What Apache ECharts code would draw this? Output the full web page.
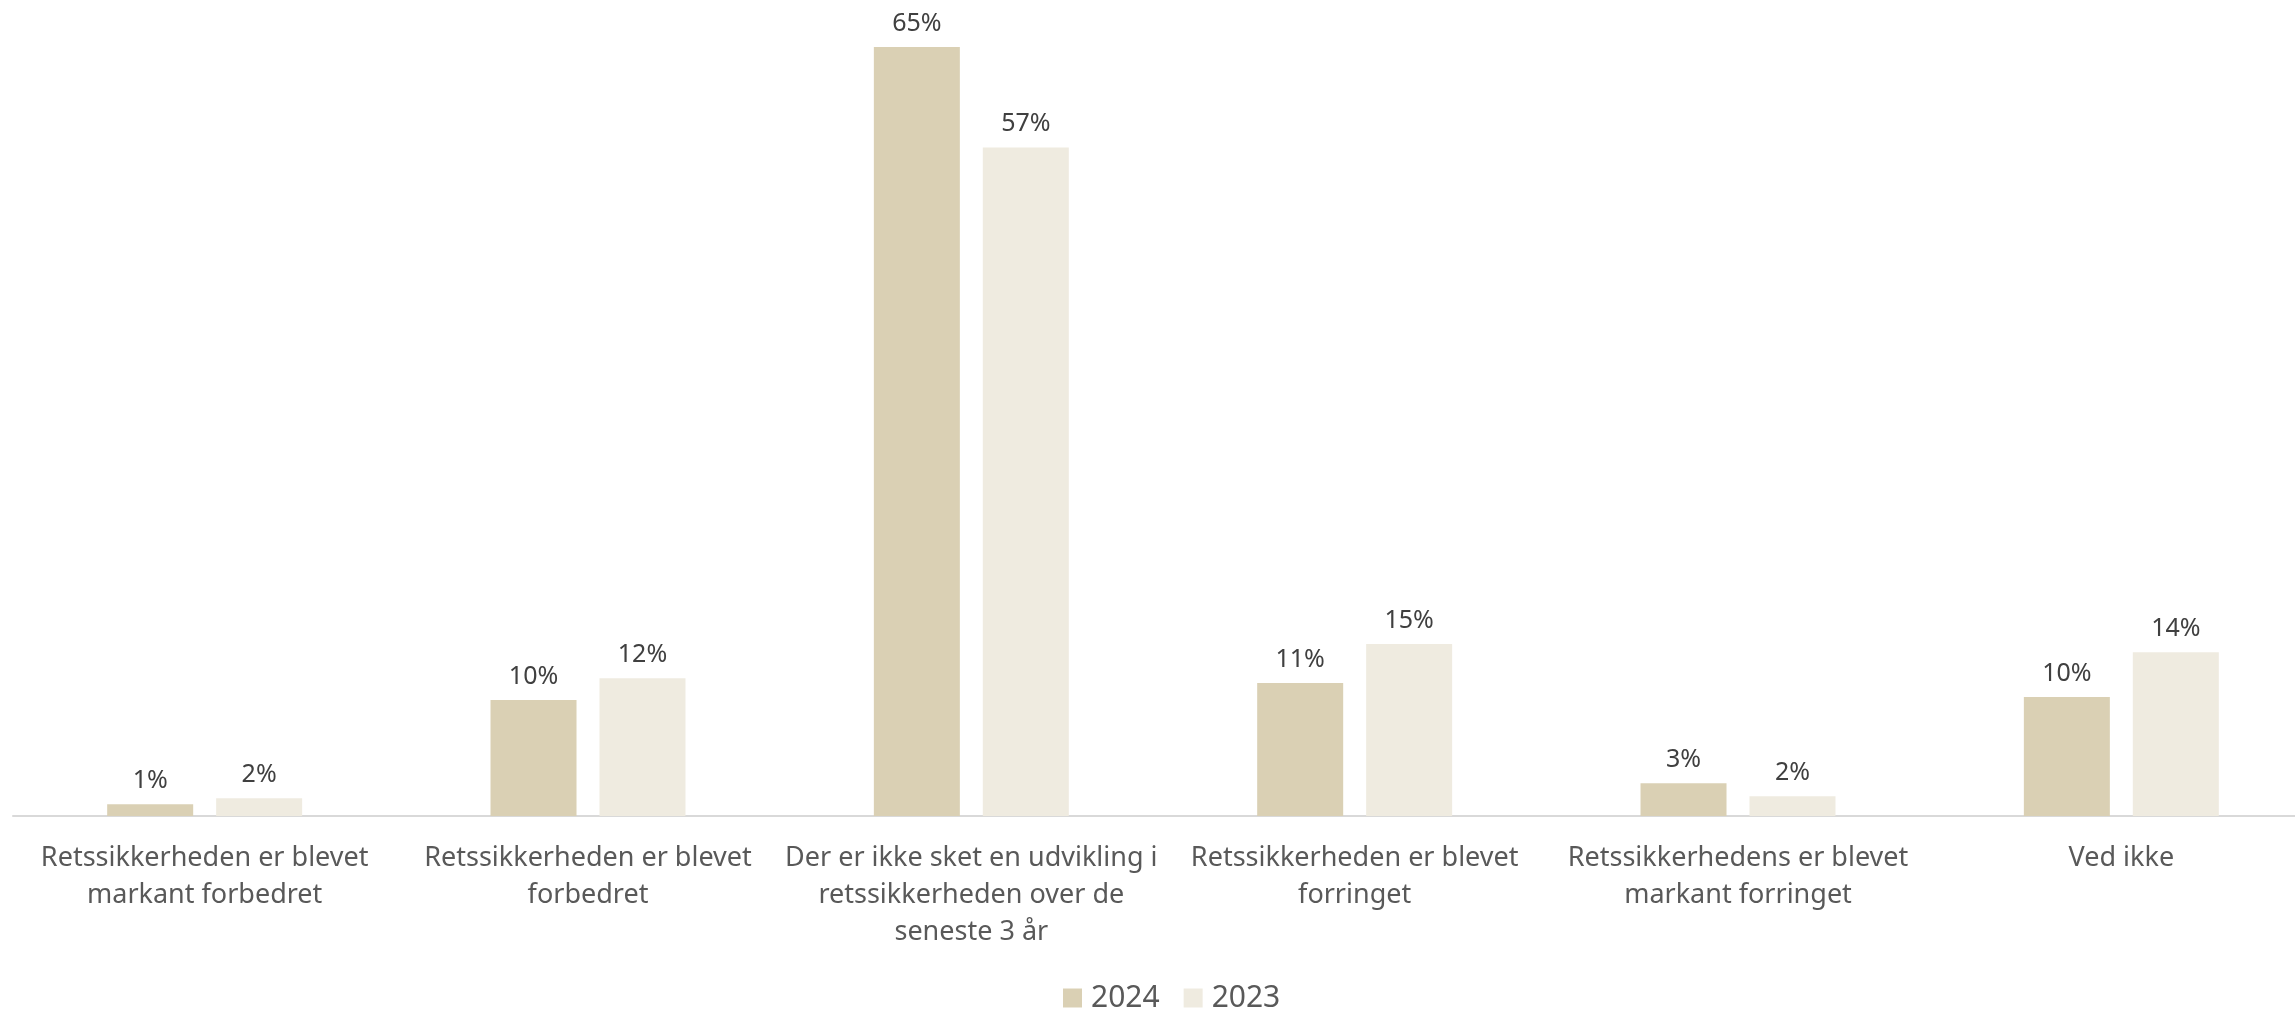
<!DOCTYPE html>
<html>
<head>
<meta charset="utf-8">
<script src="https://cdn.jsdelivr.net/npm/echarts@6/dist/echarts.min.js"></script>
<style>
html,body{margin:0;padding:0;background:#fff;}
#chart{width:2295px;height:1009px;}
</style>
</head>
<body>
<div id="chart"></div>
<script>
const categories = [
  "Retssikkerheden er blevet\nmarkant forbedret",
  "Retssikkerheden er blevet\nforbedret",
  "Der er ikke sket en udvikling i\nretssikkerheden over de\nseneste 3 år",
  "Retssikkerheden er blevet\nforringet",
  "Retssikkerhedens er blevet\nmarkant forringet",
  "Ved ikke"
];
const seriesNames = ["2024", "2023"];
const values2024 = [1.0, 9.8, 65, 11.25, 2.76, 10.06];
const values2023 = [1.5, 11.64, 56.5, 14.54, 1.67, 13.84];
const colors = ["#DAD0B4", "#EFEBE0"];

const chart = echarts.init(document.getElementById('chart'), null, {renderer: 'canvas'});
const labelStyle = {
  show: true,
  position: 'top',
  distance: 11,
  fontFamily: 'Noto Sans',
  fontSize: 25,
  color: '#404040',
  formatter: p => Math.round(p.value) + '%'
};
chart.setOption({
  animation: false,
  backgroundColor: '#ffffff',
  grid: {left: 13, width: 2300, top: 47, bottom: 193, containLabel: false, outerBoundsMode: 'none'},
  legend: {
    data: seriesNames,
    left: 1058,
    top: 978,
    icon: 'rect',
    itemWidth: 19,
    itemHeight: 19,
    itemGap: 24,
    textStyle: {fontFamily: 'Noto Sans', fontSize: 30, color: '#595959', padding: [0, 0, 0, 4]}
  },
  xAxis: {
    type: 'category',
    data: categories,
    axisLine: {show: true, lineStyle: {color: '#D9D9D9', width: 2}},
    axisTick: {show: false},
    axisLabel: {
      interval: 0,
      margin: 24,
      fontFamily: 'Noto Sans',
      fontSize: 27,
      lineHeight: 37,
      color: '#595959'
    },
    splitLine: {show: false}
  },
  yAxis: {
    type: 'value',
    min: 0,
    max: 65,
    show: false,
    splitLine: {show: false}
  },
  series: [
    {
      name: seriesNames[0],
      type: 'bar',
      data: values2024,
      barWidth: 86,
      barGap: '26.7%',
      itemStyle: {color: colors[0]},
      label: labelStyle
    },
    {
      name: seriesNames[1],
      type: 'bar',
      data: values2023,
      barWidth: 86,
      barGap: '26.7%',
      itemStyle: {color: colors[1]},
      label: labelStyle
    }
  ]
});
</script>
</body>
</html>
